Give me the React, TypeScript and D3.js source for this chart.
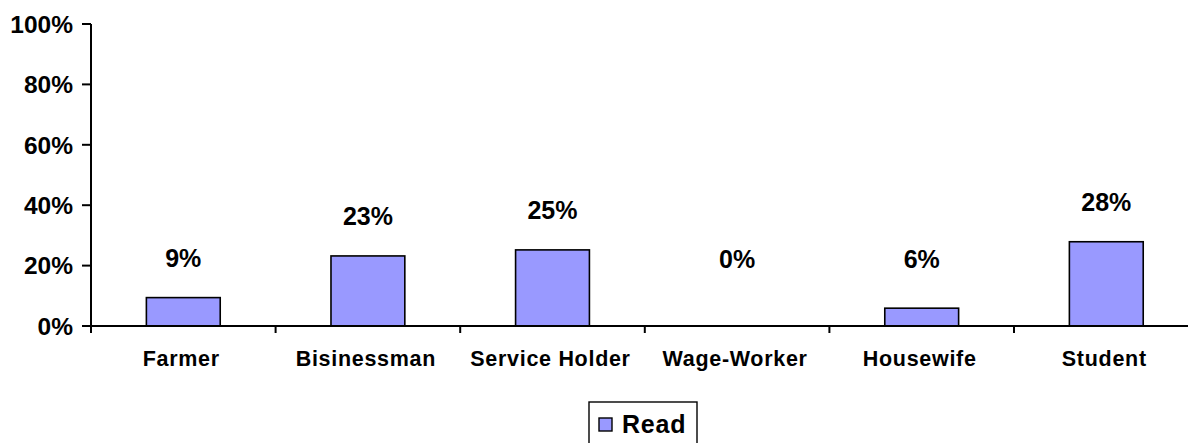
import React from "react";
import * as d3 from "d3";

const categories = ["Farmer", "Bisinessman", "Service Holder", "Wage-Worker", "Housewife", "Student"];
const readValues = [9.4, 23.2, 25.2, 0, 5.9, 27.9];
const valueLabels = ["9%", "23%", "25%", "0%", "6%", "28%"];
const yTicks = [0, 20, 40, 60, 80, 100];
const seriesName = "Read";

const W = 1188;
const H = 443;
const FONT = "'Liberation Sans', Arial, sans-serif";

export default function App() {
  const x0 = 91;
  const step = 184.6;
  const x = d3
    .scaleBand<string>()
    .domain(categories)
    .range([x0, x0 + step * categories.length])
    .paddingInner(0)
    .paddingOuter(0);
  const y = d3.scaleLinear().domain([0, 100]).range([326, 24]);
  const barW = x.bandwidth() * 0.4;
  const fill = "#9999FF";

  return (
    <svg
      width={W}
      height={H}
      style={{ position: "absolute", left: 0, top: 0, background: "#fff" }}
      fontFamily={FONT}
    >
      {/* bars */}
      {categories.map((c, i) => {
        const v = readValues[i];
        const cx = (x(c) as number) + x.bandwidth() / 2;
        if (v <= 0) return null;
        return (
          <rect
            key={c}
            x={cx - barW / 2}
            y={y(v)}
            width={barW}
            height={y(0) - y(v)}
            fill={fill}
            stroke="#000"
            strokeWidth={1.6}
          />
        );
      })}

      {/* y axis */}
      <line x1={x0} x2={x0} y1={y(100)} y2={y(0) + 7} stroke="#000" strokeWidth={2} />
      {yTicks.map((t) => (
        <g key={t}>
          <line x1={x0 - 9} x2={x0} y1={y(t)} y2={y(t)} stroke="#000" strokeWidth={2} />
          <text
            x={x0 - 18}
            y={y(t)}
            dy="0.36em"
            textAnchor="end"
            fontSize={24.5}
            fontWeight="bold"
            fill="#000"
          >
            {t}%
          </text>
        </g>
      ))}

      {/* x axis */}
      <line x1={x0} x2={W} y1={y(0)} y2={y(0)} stroke="#000" strokeWidth={2} />
      {categories.map((c) => {
        const bx = (x(c) as number) + x.bandwidth();
        return <line key={c + "t"} x1={bx} x2={bx} y1={y(0)} y2={y(0) + 7} stroke="#000" strokeWidth={2} />;
      })}
      {categories.map((c) => {
        const cx = (x(c) as number) + x.bandwidth() / 2;
        return (
          <text
            key={c + "l"}
            x={cx - 2}
            y={366}
            textAnchor="middle"
            fontSize={21.5}
            fontWeight="bold"
            letterSpacing={0.7}
            fill="#000"
          >
            {c}
          </text>
        );
      })}

      {/* value labels */}
      {categories.map((c, i) => {
        const cx = (x(c) as number) + x.bandwidth() / 2;
        const base = Math.min(y(readValues[i]) - 31, 268);
        return (
          <text
            key={c + "v"}
            x={cx}
            y={base}
            textAnchor="middle"
            fontSize={25}
            fontWeight="bold"
            fill="#000"
          >
            {valueLabels[i]}
          </text>
        );
      })}

      {/* legend */}
      <rect x={589} y={402} width={108} height={42} fill="#fff" stroke="#000" strokeWidth={1.4} />
      <rect x={599} y={418} width={13} height={13} fill={fill} stroke="#000" strokeWidth={1.4} />
      <text x={622} y={432.5} fontSize={25} fontWeight="bold" letterSpacing={0.8} fill="#000">
        {seriesName}
      </text>
    </svg>
  );
}
